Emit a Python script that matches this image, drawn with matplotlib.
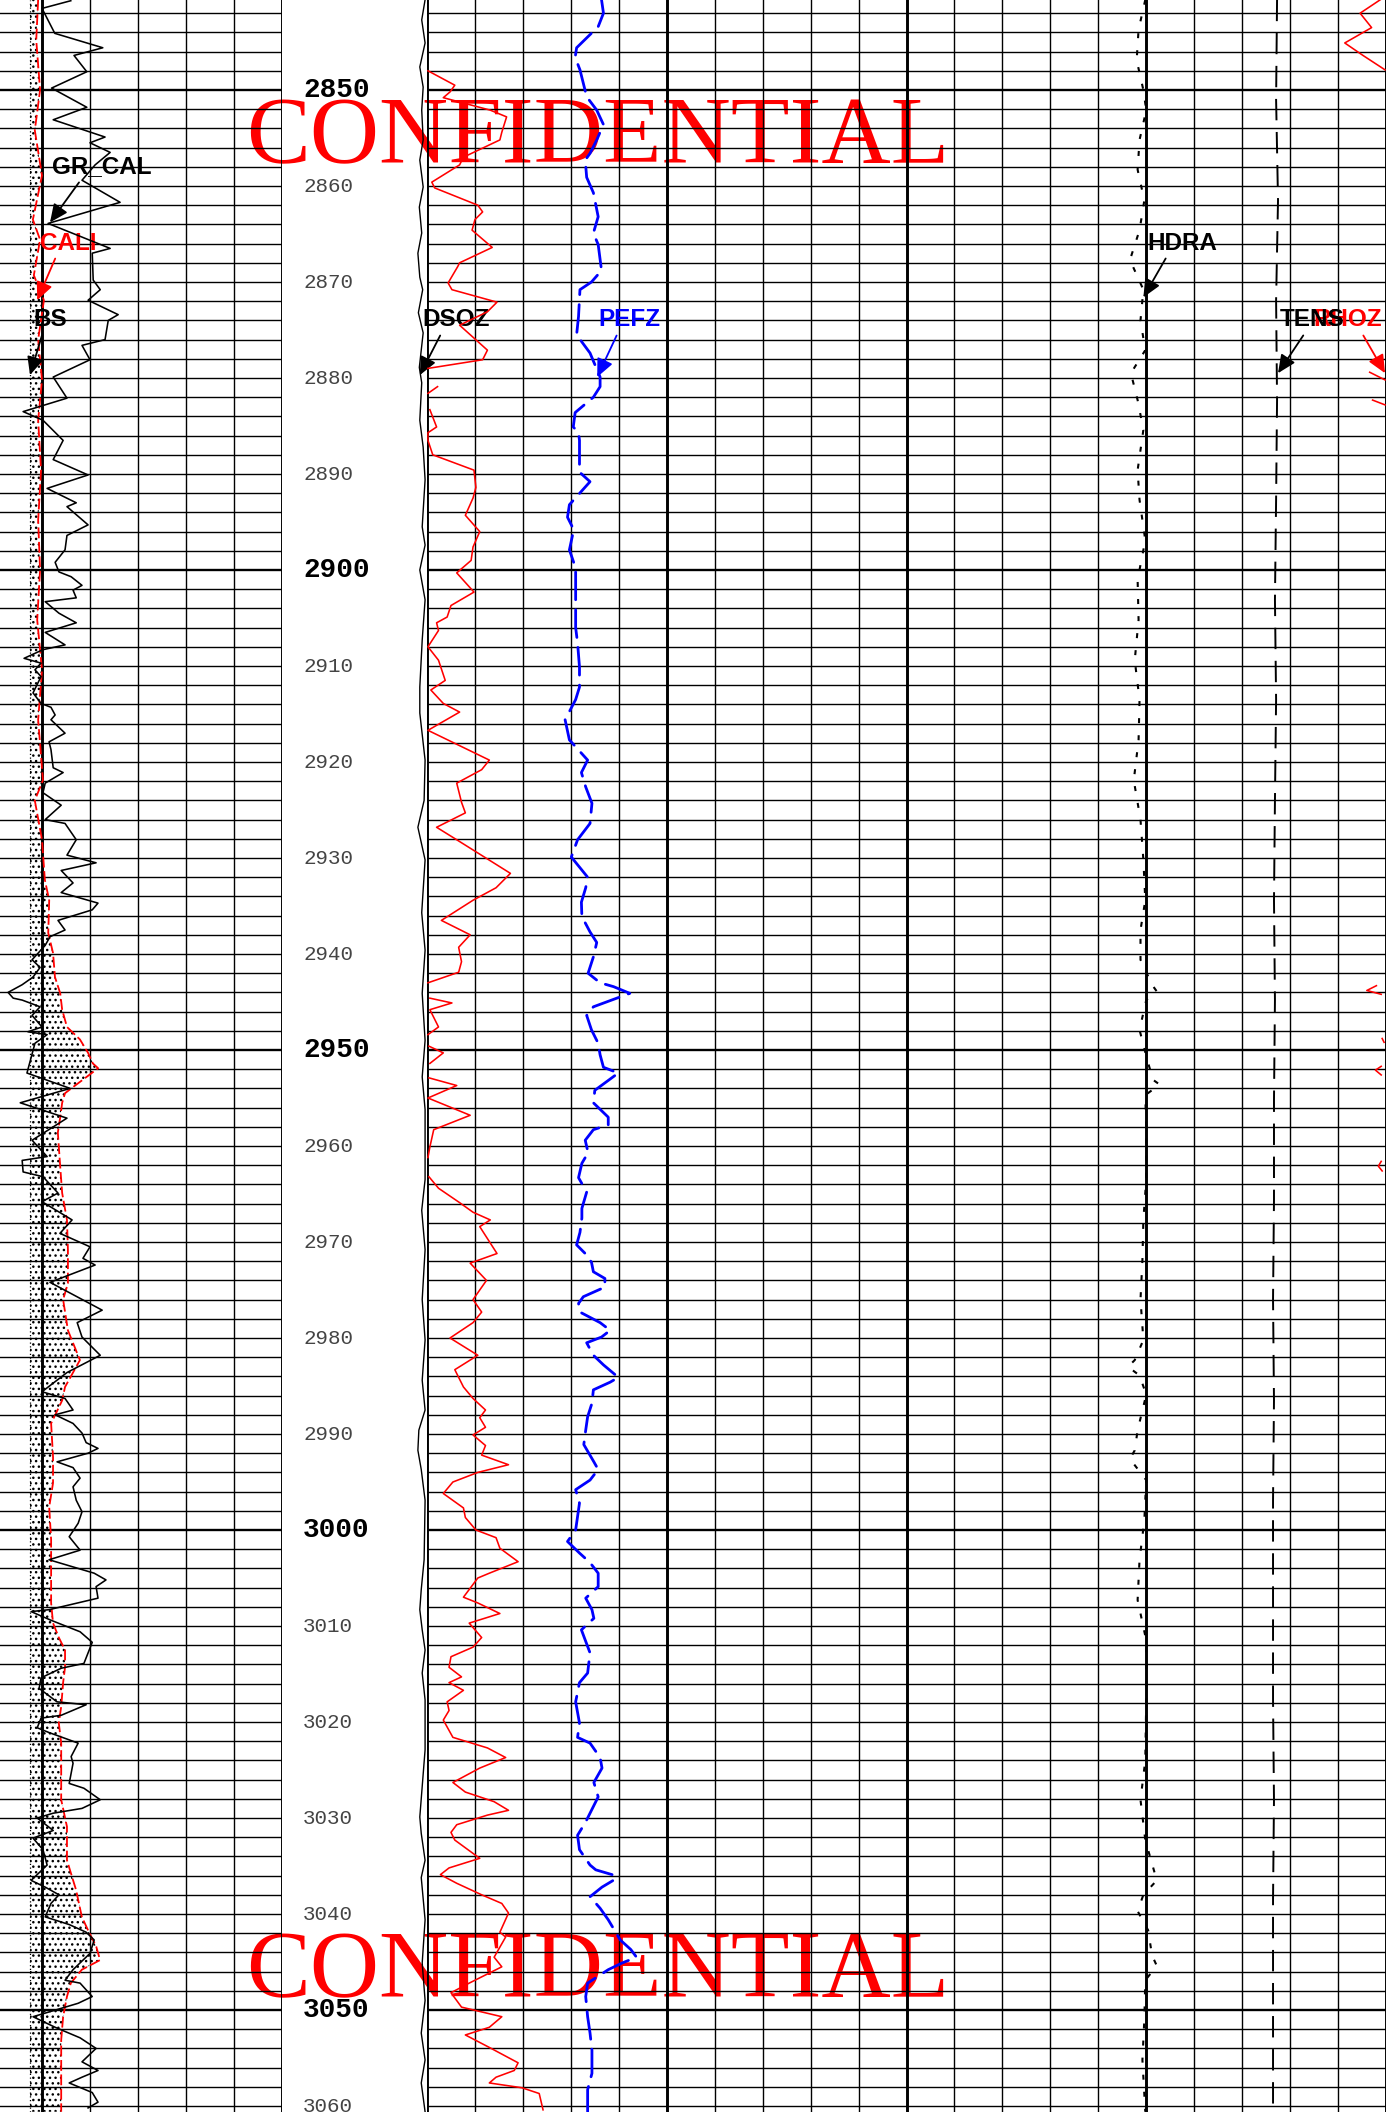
import numpy as np
import matplotlib
matplotlib.use("Agg")
import matplotlib.pyplot as plt
from matplotlib import font_manager

W, H = 1387, 2112
TOP, BOT = 2840.625, 3060.625

# ---------------- curve data (depth in m) ----------------
gr_depth = [2840.7, 2841.5, 2844.1, 2845.6, 2846.4, 2848.1, 2849.8, 2851.8, 2853.1, 2854.9,
            2855.5, 2856.5, 2857.8, 2859.4, 2861.7, 2863.9, 2866.5, 2867.0, 2869.8, 2870.8,
            2871.9, 2873.4, 2874.0, 2876.0, 2876.6, 2878.1, 2879.9, 2882.1, 2883.5, 2884.4,
            2886.5, 2888.5, 2890.1, 2891.5, 2893.0, 2893.4, 2895.3, 2896.4, 2897.9, 2899.2,
            2900.2, 2900.7, 2901.6, 2902.1, 2902.9, 2903.3, 2904.5, 2905.5, 2906.5, 2907.8,
            2908.3, 2909.2, 2909.7, 2910.4, 2911.1, 2912.8, 2913.9, 2914.3, 2915.1, 2915.6,
            2917.0, 2917.9, 2918.7, 2920.6, 2921.1, 2922.2, 2923.2, 2924.5, 2926.0, 2926.4,
            2928.1, 2929.7, 2930.5, 2931.3, 2932.6, 2933.6, 2934.7, 2935.4, 2936.5, 2937.5,
            2938.2, 2939.1, 2940.6, 2941.4, 2942.4, 2943.2, 2944.0, 2944.6, 2944.8, 2945.5,
            2946.4, 2947.6, 2948.1, 2948.4, 2949.3, 2952.4, 2954.0, 2955.5, 2957.1, 2959.4,
            2961.1, 2961.5, 2962.7, 2963.2, 2964.9, 2965.8, 2967.7, 2969.1, 2970.5, 2971.7,
            2972.4, 2974.2, 2977.1, 2978.4, 2979.9, 2981.8, 2983.6, 2985.6, 2986.3, 2987.5,
            2988.0, 2988.9, 2989.9, 2990.9, 2991.5, 2992.0, 2992.9, 2993.5, 2994.6, 2995.5,
            2996.9, 2998.1, 2999.3, 3000.7, 3002.1, 3003.1, 3004.5, 3005.2, 3005.9, 3007.1,
            3008.3, 3008.5, 3009.4, 3010.6, 3011.7, 3013.9, 3014.4, 3015.4, 3016.5, 3017.9,
            3018.2, 3019.3, 3019.6, 3020.6, 3021.1, 3022.2, 3023.6, 3024.3, 3026.4, 3026.9,
            3028.1, 3029.0, 3029.5, 3030.0, 3031.3, 3032.1, 3033.3, 3034.9, 3036.5, 3037.2,
            3038.0, 3038.9, 3040.3, 3041.1, 3041.9, 3042.7, 3044.1, 3045.8, 3046.9, 3047.2,
            3048.6, 3049.3, 3050.7, 3051.8, 3052.9, 3054.0, 3055.4, 3056.3, 3057.0, 3057.6,
            3058.6, 3059.6, 3060.2]
gr = [84, 75, 79, 94, 85, 89, 78, 89, 78.5, 94.7,
      90, 96.3, 91.6, 87.5, 99.4, 76.9, 96.3, 90.7, 91, 93.2,
      89.4, 98.8, 95.7, 94.7, 87.5, 90, 78.5, 82.8, 69.1, 75.3,
      81.6, 78.5, 89.4, 76.6, 85.7, 82.8, 89.4, 82.8, 82.2, 79.1,
      80.3, 84.1, 87.5, 84.7, 85.7, 76, 80.3, 85.7, 76, 82.2,
      75.3, 69.4, 74.7, 72.8, 74.7, 72.2, 74.7, 77.8, 79.1, 77.8,
      82.2, 77.2, 77.8, 78.5, 81.6, 76, 75.3, 81, 76, 82.2,
      85.7, 82.8, 91.9, 81, 84.7, 81, 92.5, 90.7, 80, 82.2,
      77.5, 76, 71.9, 74.4, 72.2, 68.8, 64.4, 66, 68.8, 74.4,
      71.9, 75, 70.6, 76.6, 72.8, 70.3, 83.8, 68.2, 82.8, 71.9,
      76.6, 68.8, 69.1, 75.3, 80, 75, 84.4, 80.6, 90, 87.8,
      91.6, 77.5, 93.8, 86, 87.5, 93.2, 82.8, 75, 82.2, 84.7,
      79.1, 84.7, 87.5, 88.8, 92.5, 89.4, 79.7, 84.7, 86.9, 84.7,
      85.7, 87.5, 86.3, 83.5, 86.9, 77.2, 91.3, 95, 91.9, 92.5,
      77.2, 71.6, 77.8, 86.9, 90.7, 88.1, 81, 74.7, 74.1, 79.7,
      88.8, 81, 74.7, 73.5, 77.2, 86.3, 84.1, 84.7, 83.5, 88.1,
      93.2, 87.5, 78.5, 73.5, 78.5, 72.2, 75.3, 76.6, 71.6, 76,
      80.3, 77.8, 76, 83.5, 88.8, 91.3, 90, 84.7, 82.2, 86.9,
      90.7, 86.3, 72.2, 79.1, 86.9, 91.9, 87.5, 92.5, 87.5, 83.5,
      90.7, 92.5, 89.4]

cali_depth = [2840.6, 2844.8, 2850.0, 2854.2, 2858.9, 2863.5, 2865.6, 2869.3, 2871.9, 2876.0,
              2880.2, 2884.4, 2889.6, 2894.8, 2900.0, 2905.2, 2910.4, 2915.6, 2921.9, 2924.0,
              2928.1, 2932.3, 2934.4, 2937.8, 2939.9, 2942.4, 2944.1, 2945.8, 2947.6, 2948.9,
              2950.3, 2951.4, 2951.9, 2953.1, 2953.7, 2954.5, 2955.5, 2957.0, 2958.6, 2962.2,
              2964.9, 2967.7, 2970.8, 2974.3, 2976.0, 2979.2, 2982.3, 2985.1, 2986.5, 2988.9,
              2992.4, 2995.1, 2997.6, 3001.0, 3004.5, 3007.6, 3009.7, 3011.2, 3012.5, 3014.3,
              3015.9, 3018.4, 3020.1, 3022.2, 3028.1, 3030.9, 3034.4, 3037.5, 3040.3, 3041.7,
              3043.4, 3044.8, 3045.8, 3047.2, 3048.6, 3050.7, 3053.1, 3056.3, 3060.6]
cali = [10.92, 10.88, 10.96, 10.85, 11.0, 10.81, 10.96, 10.83, 11.04, 10.92,
        11.0, 10.92, 10.98, 10.92, 10.96, 10.9, 11.0, 10.92, 11.02, 10.85,
        11.0, 11.06, 11.15, 11.13, 11.23, 11.27, 11.38, 11.42, 11.52, 11.79,
        11.96, 12.06, 12.17, 11.85, 11.69, 11.48, 11.42, 11.38, 11.33, 11.38,
        11.42, 11.52, 11.54, 11.54, 11.44, 11.54, 11.79, 11.48, 11.42, 11.19,
        11.23, 11.23, 11.15, 11.19, 11.19, 11.19, 11.23, 11.35, 11.48, 11.48,
        11.44, 11.4, 11.35, 11.4, 11.4, 11.52, 11.52, 11.71, 11.83, 11.96,
        12.13, 12.21, 11.83, 11.6, 11.52, 11.44, 11.4, 11.4, 11.4]
bs = 10.75

rhoz_depth = [2840.6, 2842.0, 2843.5, 2845.1, 2846.4, 2847.9, 2848.0, 2849.5, 2850.2, 2850.8,
              2852.1, 2852.8, 2854.4, 2855.2, 2857.0, 2857.8, 2859.6, 2860.2, 2862.0, 2862.7,
              2863.5, 2864.6, 2866.4, 2868.0, 2868.4, 2870.1, 2870.8, 2872.1, 2873.1, 2874.5,
              2877.1, 2878.1, 2879.0, 2879.4, 2880.2, 2880.9, 2881.6, 2882.3, 2882.8, 2883.3,
              2885.1, 2885.7, 2886.5, 2888.0, 2889.6, 2891.4, 2892.5, 2894.3, 2896.0, 2897.6,
              2899.0, 2900.3, 2902.3, 2903.7, 2904.9, 2905.5, 2906.3, 2908.0, 2909.4, 2911.5,
              2912.5, 2913.9, 2914.8, 2916.7, 2919.8, 2920.8, 2922.2, 2924.2, 2925.3, 2926.8,
              2928.1, 2931.6, 2933.1, 2934.4, 2936.5, 2938.0, 2939.3, 2940.8, 2941.9, 2943.0,
              2943.3, 2943.8, 2944.2, 2944.6, 2945.1, 2945.8, 2947.6, 2948.4, 2948.8, 2949.2,
              2949.6, 2950.3, 2951.4, 2951.7, 2952.1, 2952.6, 2952.9, 2953.7, 2955.0, 2956.8,
              2958.3, 2960.1, 2961.2, 2961.6, 2962.1, 2962.6, 2963.2, 2964.4, 2965.9, 2966.9,
              2967.7, 2968.4, 2971.2, 2972.2, 2974.0, 2976.0, 2977.3, 2978.4, 2980.0, 2981.8,
              2983.3, 2985.1, 2986.3, 2987.5, 2988.3, 2989.3, 2990.1, 2991.2, 2992.2, 2993.2,
              2994.0, 2995.0, 2996.2, 2997.7, 2998.7, 3000.0, 3000.8, 3001.9, 3003.3, 3004.5,
              3005.0, 3007.0, 3007.6, 3008.7, 3009.7, 3011.2, 3012.2, 3013.2, 3014.3, 3015.3,
              3015.9, 3016.7, 3017.9, 3018.8, 3019.8, 3021.6, 3022.7, 3023.7, 3024.8, 3026.3,
              3027.3, 3028.3, 3029.2, 3029.7, 3030.7, 3031.5, 3032.3, 3034.2, 3035.2, 3035.9,
              3036.8, 3038.0, 3038.9, 3039.9, 3041.9, 3042.4, 3044.5, 3045.5, 3047.2, 3048.2,
              3049.7, 3050.7, 3051.8, 3052.6, 3053.9, 3055.5, 3056.3, 3057.0, 3057.6, 3058.1,
              3058.7, 3060.4]
rhoz = [2.944, 2.923, 2.935, 2.907, 2.926, 2.949, 2.951, 2.979, 2.974, 2.967,
        3.016, 3.033, 3.028, 3.026, 2.988, 2.984, 2.955, 2.958, 3.003, 3.008,
        3.000, 2.997, 3.018, 2.984, 2.982, 2.972, 2.976, 3.023, 3.013, 2.984,
        3.013, 3.008, 2.951, 2.933, 2.949, 2.961, 2.951, 2.936, 2.949, 2.953,
        2.960, 2.951, 2.951, 2.956, 2.999, 3.001, 2.998, 2.990, 3.005, 2.998,
        2.996, 2.981, 2.999, 2.975, 2.971, 2.960, 2.962, 2.951, 2.962, 2.969,
        2.954, 2.967, 2.984, 2.951, 3.015, 3.007, 2.981, 2.986, 2.990, 2.960,
        2.981, 3.037, 3.022, 2.998, 2.965, 2.995, 2.983, 2.986, 2.983, 2.951,
        2.940, 2.930, 2.945, 2.953, 2.976, 2.953, 2.962, 2.951, 2.946, 2.948,
        2.952, 2.967, 2.953, 2.945, 2.939, 2.945, 2.952, 2.981, 2.951, 2.995,
        2.957, 2.953, 2.951, 2.945, 2.942, 2.946, 2.952, 2.962, 2.984, 2.998,
        3.016, 3.005, 3.023, 2.995, 3.012, 2.998, 3.007, 2.998, 2.974, 3.003,
        2.979, 2.988, 2.998, 3.011, 3.005, 3.011, 2.998, 3.011, 3.007, 3.035,
        3.003, 2.977, 2.967, 2.988, 2.990, 3.001, 3.022, 3.026, 3.045, 3.015,
        3.003, 2.988, 3.003, 3.026, 2.994, 3.007, 2.998, 2.975, 2.973, 2.986,
        2.973, 2.988, 2.971, 2.973, 2.967, 2.977, 3.013, 3.032, 3.005, 2.977,
        2.990, 3.020, 3.035, 3.013, 2.981, 2.975, 2.979, 3.005, 2.973, 2.964,
        2.981, 3.007, 3.028, 3.035, 3.026, 3.032, 3.020, 3.028, 2.994, 2.975,
        2.986, 3.028, 3.015, 2.990, 3.015, 3.045, 3.041, 3.022, 3.015, 3.049,
        3.067, 3.071]

pefz_depth = [2840.6, 2842.0, 2843.4, 2845.6, 2846.6, 2847.9, 2849.3, 2850.7, 2852.1, 2853.6,
              2855.2, 2856.6, 2857.3, 2859.1, 2860.7, 2863.2, 2864.9, 2866.1, 2868.8, 2870.0,
              2870.8, 2873.6, 2875.5, 2877.4, 2879.9, 2880.9, 2882.0, 2883.6, 2885.1, 2885.7,
              2886.5, 2889.8, 2890.8, 2893.2, 2894.5, 2895.8, 2897.9, 2899.8, 2901.8, 2903.9,
              2906.0, 2907.6, 2910.1, 2912.2, 2913.5, 2915.6, 2917.7, 2919.8, 2921.1, 2922.6,
              2924.3, 2926.4, 2928.1, 2929.9, 2932.0, 2933.1, 2934.6, 2936.1, 2937.7, 2938.8,
              2940.3, 2942.0, 2943.0, 2943.4, 2944.1, 2945.5, 2946.4, 2947.9, 2949.3, 2950.5,
              2951.8, 2952.4, 2954.2, 2955.5, 2957.0, 2957.8, 2958.3, 2959.4, 2960.7, 2961.8,
              2963.3, 2964.8, 2966.5, 2967.5, 2969.0, 2970.3, 2971.2, 2972.1, 2973.1, 2973.8,
              2974.7, 2975.7, 2976.4, 2977.3, 2978.4, 2979.2, 2979.9, 2980.5, 2981.8, 2982.8,
              2984.1, 2984.6, 2985.4, 2986.8, 2988.2, 2989.6, 2991.1, 2992.9, 2993.7, 2994.8,
              2995.8, 2997.2, 3000.0, 3001.2, 3002.4, 3003.4, 3004.5, 3005.9, 3007.1, 3008.3,
              3009.2, 3010.4, 3012.8, 3014.9, 3015.9, 3017.9, 3020.1, 3021.6, 3022.2, 3023.7,
              3024.8, 3026.3, 3027.8, 3029.5, 3030.4, 3031.8, 3033.3, 3034.9, 3035.4, 3035.9,
              3036.3, 3037.2, 3038.2, 3039.4, 3040.6, 3042.7, 3043.7, 3044.5, 3045.1, 3045.8,
              3047.2, 3048.6, 3050.7, 3052.4, 3054.2, 3056.6, 3058.3, 3060.6]
pefz = [3.64, 3.68, 3.57, 3.12, 3.09, 3.19, 3.26, 3.33, 3.54, 3.68,
        3.54, 3.40, 3.30, 3.33, 3.47, 3.57, 3.47, 3.57, 3.64, 3.43,
        3.19, 3.16, 3.12, 3.40, 3.61, 3.61, 3.47, 3.09, 3.05, 3.16,
        3.18, 3.18, 3.40, 2.97, 2.93, 3.06, 2.97, 3.10, 3.10, 3.10,
        3.10, 3.14, 3.18, 3.18, 3.10, 2.88, 2.97, 3.35, 3.22, 3.31,
        3.44, 3.40, 3.14, 3.01, 3.35, 3.31, 3.22, 3.23, 3.40, 3.54,
        3.47, 3.36, 3.61, 3.89, 4.23, 3.47, 3.33, 3.43, 3.57, 3.61,
        3.68, 3.99, 3.50, 3.47, 3.78, 3.78, 3.47, 3.30, 3.36, 3.23,
        3.16, 3.33, 3.23, 3.23, 3.19, 3.12, 3.30, 3.43, 3.47, 3.71,
        3.71, 3.26, 3.16, 3.19, 3.61, 3.82, 3.64, 3.33, 3.47, 3.68,
        3.99, 3.82, 3.47, 3.44, 3.35, 3.31, 3.27, 3.48, 3.57, 3.40,
        3.10, 3.18, 3.10, 2.93, 3.18, 3.40, 3.57, 3.57, 3.31, 3.44,
        3.48, 3.22, 3.40, 3.35, 3.18, 3.10, 3.18, 3.14, 3.40, 3.61,
        3.65, 3.48, 3.57, 3.40, 3.31, 3.14, 3.18, 3.40, 3.52, 3.86,
        3.95, 3.65, 3.40, 3.61, 3.78, 4.03, 4.25, 4.37, 4.07, 3.78,
        3.35, 3.31, 3.35, 3.40, 3.44, 3.44, 3.35, 3.35]

dsoz_depth = [2840.6, 2842.7, 2845.1, 2847.6, 2849.7, 2852.1, 2855.2, 2857.3, 2860.1, 2862.2,
              2864.9, 2867.0, 2869.5, 2870.8, 2873.2, 2875.3, 2878.9, 2880.5, 2884.4, 2887.2,
              2890.6, 2895.5, 2897.4, 2900.0, 2903.1, 2907.3, 2912.2, 2914.9, 2919.8, 2924.0,
              2926.8, 2930.2, 2935.7, 2939.6, 2944.1, 2949.0, 2952.8, 2956.2, 2963.5, 2966.7,
              2970.8, 2976.0, 2980.2, 2984.4, 2987.5, 2989.6, 2991.7, 2993.7, 2996.9, 3003.1,
              3006.2, 3008.3, 3010.4, 3012.5, 3014.9, 3017.7, 3022.9, 3029.9, 3031.6, 3034.4,
              3036.2, 3040.6, 3045.1, 3049.0, 3052.4, 3055.2, 3057.6, 3060.6]
dsoz = [-0.004, -0.011, -0.004, -0.015, -0.008, -0.011, -0.008, -0.015, -0.008, -0.016,
        -0.011, -0.019, -0.015, -0.009, -0.018, -0.008, -0.016, -0.011, -0.015, -0.008,
        -0.004, -0.010, -0.004, -0.015, -0.004, -0.010, -0.015, -0.015, -0.004, -0.006,
        -0.019, -0.004, -0.011, -0.004, -0.010, -0.004, -0.010, -0.004, -0.004, -0.011,
        -0.004, -0.010, -0.004, -0.010, -0.004, -0.017, -0.019, -0.012, -0.004, -0.006,
        -0.012, -0.015, -0.010, -0.004, -0.010, -0.004, -0.004, -0.015, -0.012, -0.004,
        -0.012, -0.004, -0.010, -0.004, -0.012, -0.004, -0.012, -0.004]

hdra_depth = [2840.6, 2843.7, 2846.9, 2850.0, 2852.1, 2855.2, 2858.3, 2861.5, 2864.6, 2867.7,
              2870.8, 2874.0, 2877.1, 2879.5, 2882.3, 2885.4, 2889.6, 2892.7, 2896.9, 2901.0,
              2905.2, 2909.4, 2913.5, 2917.7, 2921.9, 2926.0, 2930.2, 2934.4, 2937.5, 2940.6,
              2943.2, 2943.9, 2944.8, 2947.9, 2951.0, 2953.1, 2953.6, 2954.7, 2958.3, 2963.5,
              2967.7, 2971.9, 2976.0, 2980.2, 2982.3, 2983.0, 2983.9, 2985.9, 2989.6, 2991.7,
              2992.6, 2994.8, 2999.0, 3003.1, 3007.3, 3011.5, 3017.7, 3024.0, 3028.1, 3032.3,
              3036.5, 3038.0, 3039.7, 3041.7, 3044.3, 3045.4, 3046.9, 3051.0, 3055.2, 3060.6]
hdra = [-0.001, -0.008, -0.010, -0.003, 0.000, -0.007, -0.009, -0.002, -0.007, -0.017,
        -0.003, -0.006, -0.001, -0.016, -0.009, -0.003, -0.009, -0.007, -0.001, -0.009,
        -0.008, -0.012, -0.007, -0.008, -0.013, -0.006, -0.003, -0.001, -0.006, -0.006,
        0.006, 0.011, 0.000, -0.007, 0.001, 0.007, 0.014, -0.001, 0.000, 0.000,
        -0.003, -0.004, -0.006, -0.003, -0.012, -0.019, -0.007, 0.000, -0.009, -0.012,
        -0.017, 0.000, -0.002, -0.007, -0.009, 0.000, 0.000, -0.001, -0.006, -0.001,
        0.011, -0.003, -0.009, 0.002, 0.006, 0.011, -0.001, -0.002, -0.004, -0.001]

tens_depth = [2840.6, 2851.0, 2861.5, 2871.9, 2882.3, 2892.7, 2903.1, 2913.5, 2924.0, 2934.4, 2944.8,
              2955.2, 2965.6, 2976.0, 2986.5, 2996.9, 3007.3, 3017.7, 3028.1, 3038.5, 3049.0, 3060.6]
tens = [4432, 4427, 4437, 4427, 4432, 4427, 4421, 4427, 4421, 4416, 4421,
        4416, 4416, 4411, 4416, 4411, 4411, 4411, 4416, 4411, 4411, 4411]

depth_labels = list(range(2850, 3061, 10))

# ---------------- figure ----------------
installed = {f.name for f in font_manager.fontManager.ttflist}
LABEL_FONT = 'Liberation Sans Narrow' if 'Liberation Sans Narrow' in installed else 'Liberation Sans'
LABEL_SIZE = 20 if LABEL_FONT == 'Liberation Sans Narrow' else 17.5
plt.rcParams['hatch.linewidth'] = 1.0

fig = plt.figure(figsize=(W / 100, H / 100), dpi=100)
fig.patch.set_facecolor('white')

# watermark, below the grid
for base in (163, 1997):
    fig.text(246 / W, 1 - base / H, 'CONFIDENTIAL', color='red', fontsize=69,
             family='Liberation Serif', ha='left', va='baseline', zorder=-1)


def add_track(x0, x1, ndiv):
    ax = fig.add_axes([x0 / W, 0, (x1 - x0) / W, 1])
    ax.set_xlim(0, ndiv)
    ax.set_ylim(BOT, TOP)
    ax.axis('off')
    ax.patch.set_visible(False)
    for d in np.arange(2842, 3061, 2):
        ax.axhline(d, color='black', lw=1.7 if d % 50 == 0 else 1.0)
    for i in range(ndiv + 1):
        ax.axvline(i, color='black', lw=2.1 if i % 5 == 0 else 1.0)
    return ax


def curve_axes(parent, lo, hi):
    a = parent.twiny()
    a.set_xlim(lo, hi)
    a.set_ylim(BOT, TOP)
    a.axis('off')
    a.patch.set_visible(False)
    return a


# track 1 (partly off the left edge), depth track, tracks 2+3
t1 = add_track(-198, 282, 10)
t23 = add_track(427, 1386, 20)

ax_dep = fig.add_axes([282 / W, 0, 145 / W, 1])
ax_dep.set_xlim(0, 1)
ax_dep.set_ylim(BOT, TOP)
ax_dep.axis('off')
ax_dep.patch.set_visible(False)
for d in depth_labels:
    if d % 50 == 0:
        ax_dep.text(0.145, d, str(d), fontsize=20, fontweight='bold', family='Liberation Mono',
                    color='black', va='center', ha='left')
    else:
        ax_dep.text(0.145, d, str(d), fontsize=15, family='Liberation Mono',
                    color='#444444', va='center', ha='left')

# track 1 curves
ax_cal = curve_axes(t1, 6, 16)
cal_arr = np.array(cali)
ax_cal.fill_betweenx(cali_depth, bs, cal_arr, where=cal_arr > bs, interpolate=True,
                     facecolor='none', edgecolor='black', hatch='...', linewidth=0)
ax_cal.axvline(bs, color='black', lw=0.9, linestyle=(0, (1, 2)))
ax_cal.plot(cali, cali_depth, color='red', lw=1.3, dashes=(6, 2))

ax_gr = curve_axes(t1, 0, 150)
ax_gr.plot(gr, gr_depth, color='black', lw=1.15)

# tracks 2+3 curves
ax_ds = curve_axes(t23, 0, 2)
ax_ds.plot(dsoz, dsoz_depth, color='black', lw=1.0, clip_on=False)

rho = np.array(rhoz)
ax_rho = curve_axes(t23, 1.95, 2.95)
ax_rho.plot(np.where(rho <= 2.95, rho, np.nan), rhoz_depth, color='red', lw=1.15)
ax_rho_b = curve_axes(t23, 2.95, 3.95)
ax_rho_b.plot(np.where(rho > 2.95, rho, np.nan), rhoz_depth, color='red', lw=1.15)

ax_pe = curve_axes(t23, 0, 20)
ax_pe.plot(pefz, pefz_depth, color='blue', lw=2.0, dashes=(10, 3.6), dash_capstyle='round')

ax_hd = curve_axes(t23, -0.75, 0.25)
ax_hd.plot(hdra, hdra_depth, color='black', lw=1.5, dashes=(2.4, 5.8))

ax_te = curve_axes(t23, 0, 5000)
ax_te.plot(tens, tens_depth, color='black', lw=1.4, dashes=(11, 6))

# curve labels with arrows: (axes, name, colour, arrow tip in curve units, text pos px from top-left, relpos)
labels = [
    (ax_gr, 'GR_CAL', 'black', (77.5, 2863.8), (52, 167), 0.3),
    (ax_cal, 'CALI', 'red', (10.9, 2871.9), (40, 243), 0.3),
    (ax_cal, 'BS', 'black', (bs, 2879.7), (33, 320), 0.3),
    (ax_ds, 'DSOZ', 'black', (-0.015, 2879.7), (422, 320), 0.3),
    (ax_pe, 'PEFZ', 'blue', (3.55, 2879.9), (598, 320), 0.33),
    (ax_hd, 'HDRA', 'black', (-0.003, 2871.6), (1147, 243), 0.3),
    (ax_te, 'TENS', 'black', (4437, 2879.5), (1280, 320), 0.4),
    (ax_rho, 'RHOZ', 'red', (2.949, 2879.5), (1313, 320), 0.7),
]
for ax, name, col, tip, (px, py), rx in labels:
    ax.annotate(name, xy=tip, xycoords='data', xytext=(px, H - py), textcoords='figure pixels',
                ha='left', va='center', color=col, fontsize=LABEL_SIZE, fontweight='bold',
                family=[LABEL_FONT, 'DejaVu Sans'], annotation_clip=False,
                arrowprops=dict(arrowstyle='-|>,head_length=0.55,head_width=0.25', color=col,
                                lw=1.3, shrinkA=1, shrinkB=0, relpos=(rx, 0), mutation_scale=20))

fig.savefig('out.png', dpi=100)
